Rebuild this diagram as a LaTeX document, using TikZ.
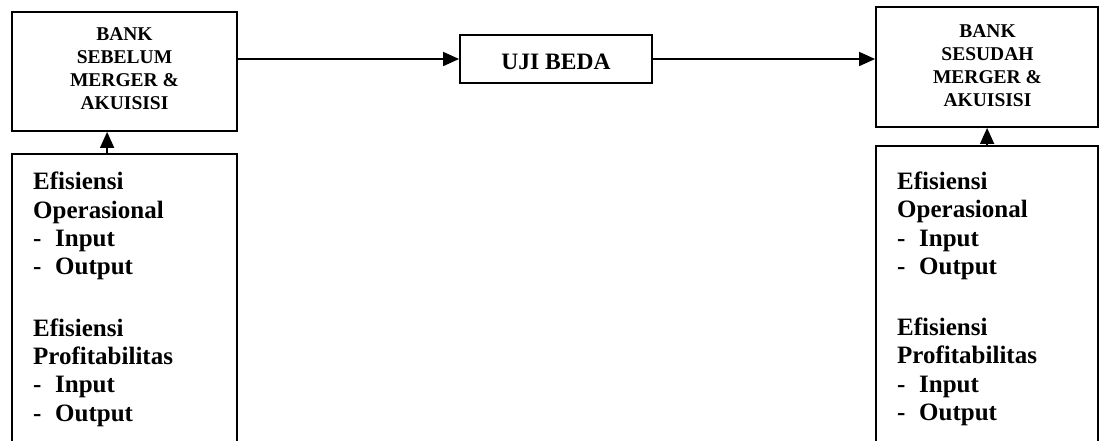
\documentclass[tikz,border=0pt]{standalone}
\usepackage{fontspec}
\setmainfont{Liberation Serif}[BoldFont={Liberation Serif Bold}]
\usetikzlibrary{arrows.meta}
\begin{document}
\begin{tikzpicture}[x=1pt,y=-1pt,
  box/.style={draw=black,line width=1.8pt,rectangle,inner sep=0pt},
  small/.style={font=\bfseries\fontsize{19.5}{23}\selectfont,align=center,inner sep=0pt,anchor=base},
  big/.style={font=\bfseries\fontsize{25}{28.3}\selectfont,align=left,inner sep=0pt,anchor=base west},
  arr/.style={line width=1.6pt,-{Triangle[length=16pt,width=14pt]}}]
\clip (0,0) rectangle (1100,440);
\fill[white] (0,0) rectangle (1100,440);
% top boxes
\node[box,minimum width=225pt,minimum height=119pt] (lt) at (124.5,71.5) {};
\node[box,minimum width=222pt,minimum height=120pt] (rt) at (987,67) {};
\node[box,minimum width=192pt,minimum height=48pt] (ub) at (556,59) {};
% lower boxes
\node[box,minimum width=225pt,minimum height=306pt] (lb) at (124.5,307) {};
\node[box,minimum width=222pt,minimum height=314pt] (rb) at (987,303) {};
% texts (anchor base = baseline of last line)
\node[small] (ltt) at (124.5,109) {BANK\\SEBELUM\\MERGER \&\\AKUISISI};
\node[small] (rtt) at (987.5,106) {BANK\\SESUDAH\\MERGER \&\\AKUISISI};
\node[font=\bfseries\fontsize{23.5}{28}\selectfont,inner sep=0pt,anchor=base] (ubt) at (556,69.3) {UJI BEDA};
\node[big] (lbt) at (33,421) {Efisiensi\\Operasional\\\makebox[22pt][l]{-}Input\\\makebox[22pt][l]{-}Output\\[33pt]Efisiensi\\Profitabilitas\\\makebox[22pt][l]{-}Input\\\makebox[22pt][l]{-}Output};
\node[big] (rbt) at (897,420.5) {Efisiensi\\Operasional\\\makebox[22pt][l]{-}Input\\\makebox[22pt][l]{-}Output\\[33pt]Efisiensi\\Profitabilitas\\\makebox[22pt][l]{-}Input\\\makebox[22pt][l]{-}Output};
% connectors
\draw[arr] ([yshift=12.5pt]lt.east) -- (ub.west);
\draw[arr] (ub.east) -- ([yshift=8pt]rt.west);
\draw[arr] ([xshift=96pt]lb.north west) -- ([xshift=96pt]lt.south west);
\draw[arr] ([xshift=112pt]rb.north west) -- ([xshift=112pt]rt.south west);
\end{tikzpicture}
\end{document}
